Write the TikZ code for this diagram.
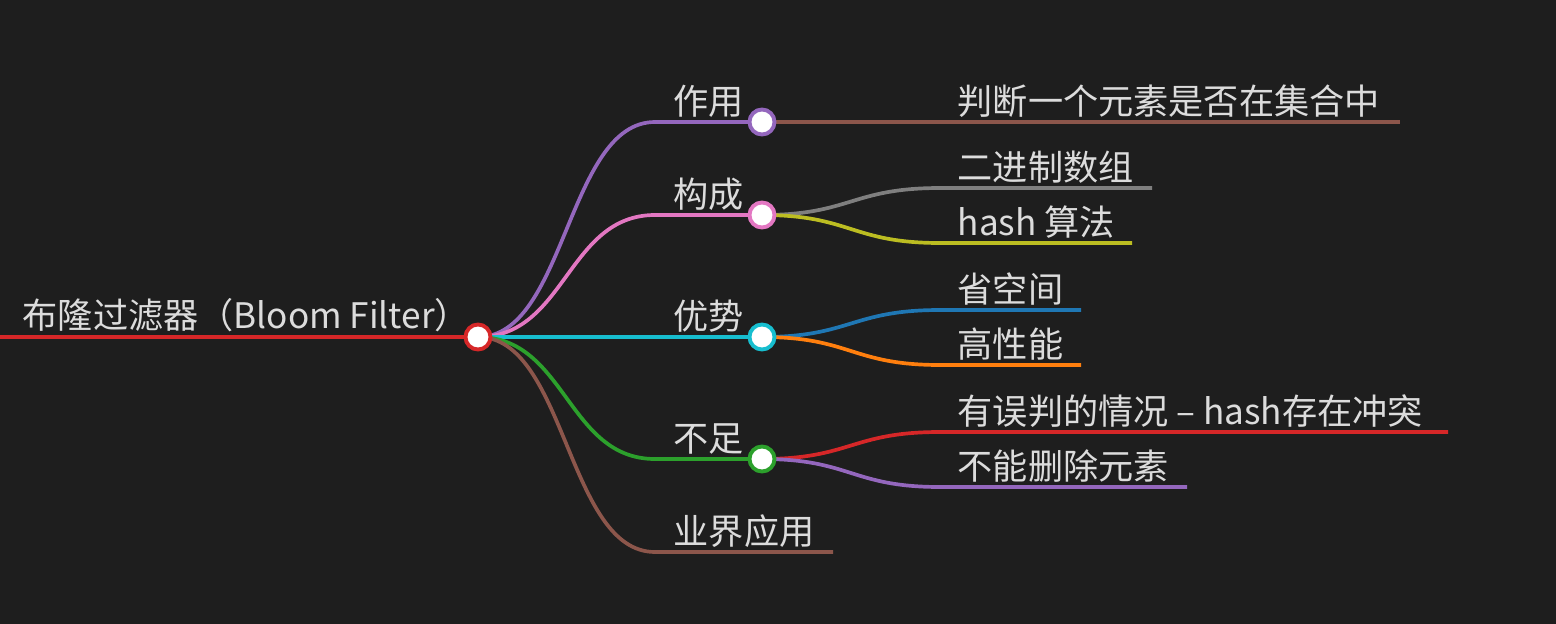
\documentclass[tikz,border=0pt]{standalone}
\usepackage{fontspec}
\setmainfont{Noto Sans CJK SC}
\usepackage{xcolor}
\usetikzlibrary{positioning}
\definecolor{bgcol}{HTML}{1E1E1E}
\definecolor{txtcol}{HTML}{DCDCDC}
\definecolor{cred}{HTML}{D62728}
\definecolor{cpurple}{HTML}{9467BD}
\definecolor{cpink}{HTML}{E377C2}
\definecolor{ccyan}{HTML}{17BECF}
\definecolor{cgreen}{HTML}{2CA02C}
\definecolor{cbrown}{HTML}{8C564B}
\definecolor{cgray}{HTML}{7F7F7F}
\definecolor{colive}{HTML}{BCBD22}
\definecolor{cblue}{HTML}{1F77B4}
\definecolor{corange}{HTML}{FF7F0E}
\begin{document}
\begin{tikzpicture}[
  x=0.01cm, y=-0.01cm,
  topic/.style={anchor=base west, inner sep=0pt, text=txtcol, font=\fontsize{10pt}{12pt}\selectfont},
  knot/.style={circle, draw=#1, fill=white, line width=1.1pt, minimum size=0.25cm, inner sep=0pt},
  branch/.style={draw=#1, line width=1.05pt},
]
\fill[bgcol] (0,0) rectangle (1556,624);
\useasboundingbox (0,0) rectangle (1556,624);

\coordinate (root) at (478,337);
\coordinate (rootend) at (0,337);
\coordinate (zy) at (762,122);
\coordinate (gc) at (762,215);
\coordinate (ys) at (762,337);
\coordinate (bz) at (762,459);
\coordinate (zys) at (655,122);
\coordinate (gcs) at (655,215);
\coordinate (bzs) at (655,459);
\coordinate (yjs) at (655,552);
\coordinate (yje) at (833,552);
\coordinate (pde) at (1400,122);
\coordinate (ejs) at (940,188);
\coordinate (eje) at (1152,188);
\coordinate (hss) at (940,243);
\coordinate (hse) at (1132,243);
\coordinate (skjs) at (940,310);
\coordinate (skje) at (1081,310);
\coordinate (gxns) at (940,365);
\coordinate (gxne) at (1081,365);
\coordinate (wps) at (940,432);
\coordinate (wpe) at (1448,432);
\coordinate (bns) at (940,487);
\coordinate (bne) at (1187,487);

\draw[branch=cred, line width=1.3pt] (rootend) -- (root);
\draw[branch=cpurple] (root) .. controls +(88,0) and +(-88,0) .. (zys) -- (zy);
\draw[branch=cpink] (root) .. controls +(88,0) and +(-88,0) .. (gcs) -- (gc);
\draw[branch=ccyan] (root) -- (ys);
\draw[branch=cgreen] (root) .. controls +(88,0) and +(-88,0) .. (bzs) -- (bz);
\draw[branch=cbrown] (root) .. controls +(88,0) and +(-88,0) .. (yjs) -- (yje);
\draw[branch=cbrown] (zy) -- (pde);
\draw[branch=cgray] (gc) .. controls +(89,0) and +(-89,0) .. (ejs) -- (eje);
\draw[branch=colive] (gc) .. controls +(89,0) and +(-89,0) .. (hss) -- (hse);
\draw[branch=cblue] (ys) .. controls +(89,0) and +(-89,0) .. (skjs) -- (skje);
\draw[branch=corange] (ys) .. controls +(89,0) and +(-89,0) .. (gxns) -- (gxne);
\draw[branch=cred] (bz) .. controls +(89,0) and +(-89,0) .. (wps) -- (wpe);
\draw[branch=cpurple] (bz) .. controls +(89,0) and +(-89,0) .. (bns) -- (bne);

\node[knot=cred] (rootknot) at (root) {};
\node[knot=cpurple] (zyknot) at (zy) {};
\node[knot=cpink] (gcknot) at (gc) {};
\node[knot=ccyan] (ysknot) at (ys) {};
\node[knot=cgreen] (bzknot) at (bz) {};

\node[topic] (title) at (22,328) {布隆过滤器（Bloom Filter）};
\node[topic] (zuoyong) at (673,114) {作用};
\node[topic] (goucheng) at (673,207) {构成};
\node[topic] (youshi) at (673,329) {优势};
\node[topic] (buzu) at (673,451) {不足};
\node[topic] (yingyong) at (673,544) {业界应用};
\node[topic] (panduan) at (957,114) {判断一个元素是否在集合中};
\node[topic] (shuzu) at (957,180) {二进制数组};
\node[topic] (suanfa) at (957,235) {hash 算法};
\node[topic] (kongjian) at (957,302) {省空间};
\node[topic] (xingneng) at (957,357) {高性能};
\node[topic] (wupan) at (957,424) {有误判的情况 – hash存在冲突};
\node[topic] (shanchu) at (957,479) {不能删除元素};
\end{tikzpicture}
\end{document}
